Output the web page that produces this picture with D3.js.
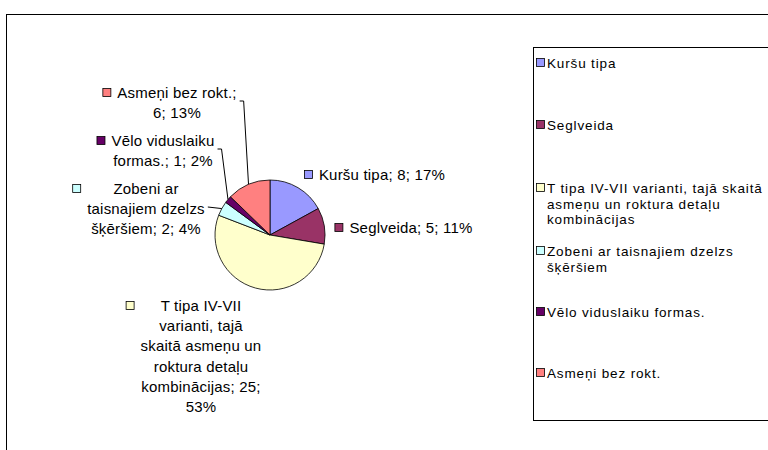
<!DOCTYPE html>
<html>
<head>
<meta charset="utf-8">
<script src="https://cdn.jsdelivr.net/npm/d3@7/dist/d3.min.js"></script>
<style>
  html, body { margin: 0; padding: 0; background: #fff; }
  svg text { font-family: "Liberation Sans", Arial, sans-serif; fill: #000; }
</style>
</head>
<body>
<svg id="chart" width="768" height="450"></svg>
<script>
// Sword types and their counts
const categories = [
  "Kuršu tipa",
  "Seglveida",
  "T tipa IV-VII varianti, tajā skaitā asmeņu un roktura detaļu kombinācijas",
  "Zobeni ar taisnajiem dzelzs šķēršiem",
  "Vēlo viduslaiku formas.",
  "Asmeņi bez rokt."
];
const values = [8, 5, 25, 2, 1, 6];
const colors = ["#9999FF", "#993366", "#FFFFCC", "#CCFFFF", "#660066", "#FF8080"];

// How each slice label wraps (the value and percent are appended)
const labelNames = [
  ["Kuršu tipa"],
  ["Seglveida"],
  ["T tipa IV-VII", "varianti, tajā", "skaitā asmeņu un", "roktura detaļu", "kombinācijas"],
  ["Zobeni ar", "taisnajiem dzelzs", "šķēršiem"],
  ["Vēlo viduslaiku", "formas."],
  ["Asmeņi bez rokt."]
];
// How each legend entry wraps
const legendLines = [
  ["Kuršu tipa"],
  ["Seglveida"],
  ["T tipa IV-VII varianti, tajā skaitā", "asmeņu un roktura detaļu", "kombinācijas"],
  ["Zobeni ar taisnajiem dzelzs", "šķēršiem"],
  ["Vēlo viduslaiku formas."],
  ["Asmeņi bez rokt."]
];

const svg = d3.select("#chart");
const total = d3.sum(values);
const pct = v => Math.round(v / total * 100) + "%";

// Build full label lines: the value and percent continue after the name
function fullLabel(i) {
  const names = labelNames[i].slice();
  const v = values[i], p = pct(v);
  const last = names.length - 1;
  if (i === 2) { names[last] += "; " + v + ";"; names.push(p); }
  else if (i === 5) { names[last] += ";"; names.push(v + "; " + p); }
  else { names[last] += "; " + v + "; " + p; }
  return names;
}

// Outer chart frame
svg.append("rect")
  .attr("x", 6.5).attr("y", 14.5)
  .attr("width", 800).attr("height", 500)
  .attr("fill", "none").attr("stroke", "#000").attr("stroke-width", 1);

// Pie
const cx = 270, cy = 235, r = 55;
const pie = d3.pie().value(d => d).sort(null);
const arcs = pie(values);
const arc = d3.arc().innerRadius(0).outerRadius(r);

const g = svg.append("g").attr("transform", `translate(${cx},${cy})`);
g.selectAll("path.slice")
  .data(arcs)
  .join("path")
  .attr("class", "slice")
  .attr("d", arc)
  .attr("fill", (d, i) => colors[i])
  .attr("stroke", "#000")
  .attr("stroke-width", 0.8);

// Label placement (centre x, first baseline y) and leader style
const labelLayout = [
  { x: 382, y: 180, leader: null },
  { x: 411, y: 233, leader: null },
  { x: 201, y: 311, leader: null },
  { x: 146, y: 194, leader: { y: 207, elbow: false } },
  { x: 163, y: 146, leader: { y: 149, elbow: true } },
  { x: 177, y: 98,  leader: { y: 101, elbow: true } }
];
const lineH = 20.2;
const fontSize = 15;

const labels = svg.append("g");
arcs.forEach((a, i) => {
  const L = labelLayout[i];
  const lines = fullLabel(i);
  const t = labels.append("text")
    .attr("text-anchor", "middle")
    .style("font-size", fontSize + "px")
    .style("letter-spacing", "0.2px");
  lines.forEach((ln, k) => {
    t.append("tspan").attr("x", L.x).attr("y", L.y + k * lineH).text(ln);
  });
  const bb = t.node().getBBox();
  // colour key in front of the label block
  labels.append("rect")
    .attr("x", bb.x - 14.5).attr("y", L.y - 9.5)
    .attr("width", 8).attr("height", 8)
    .attr("fill", colors[i]).attr("stroke", "#000").attr("stroke-width", 0.8);
  // leader line to the slice edge
  if (L.leader) {
    const mid = (a.startAngle + a.endAngle) / 2;
    const ex = cx + r * Math.sin(mid), ey = cy - r * Math.cos(mid);
    const sx = bb.x + bb.width + 3;
    const pts = L.leader.elbow
      ? [[sx, L.leader.y], [sx + 4, L.leader.y], [ex, ey]]
      : [[sx, L.leader.y], [ex, ey]];
    labels.append("path")
      .attr("d", d3.line()(pts))
      .attr("fill", "none").attr("stroke", "#000").attr("stroke-width", 1);
  }
});

// Legend box
svg.append("rect")
  .attr("x", 533.5).attr("y", 47.5)
  .attr("width", 300).attr("height", 373)
  .attr("fill", "#fff").attr("stroke", "#000").attr("stroke-width", 1);

const legendTop = [68, 130, 193, 256, 317, 378];
const legendLineH = 15.6;
const legend = svg.append("g");
categories.forEach((c, i) => {
  const y0 = legendTop[i];
  legend.append("rect")
    .attr("x", 536.5).attr("y", y0 - 9.5)
    .attr("width", 8).attr("height", 8)
    .attr("fill", colors[i]).attr("stroke", "#000").attr("stroke-width", 0.8);
  const t = legend.append("text")
    .style("font-size", "13.5px")
    .style("letter-spacing", "0.85px");
  legendLines[i].forEach((ln, k) => {
    t.append("tspan").attr("x", 547).attr("y", y0 + k * legendLineH).text(ln);
  });
});
</script>
</body>
</html>
